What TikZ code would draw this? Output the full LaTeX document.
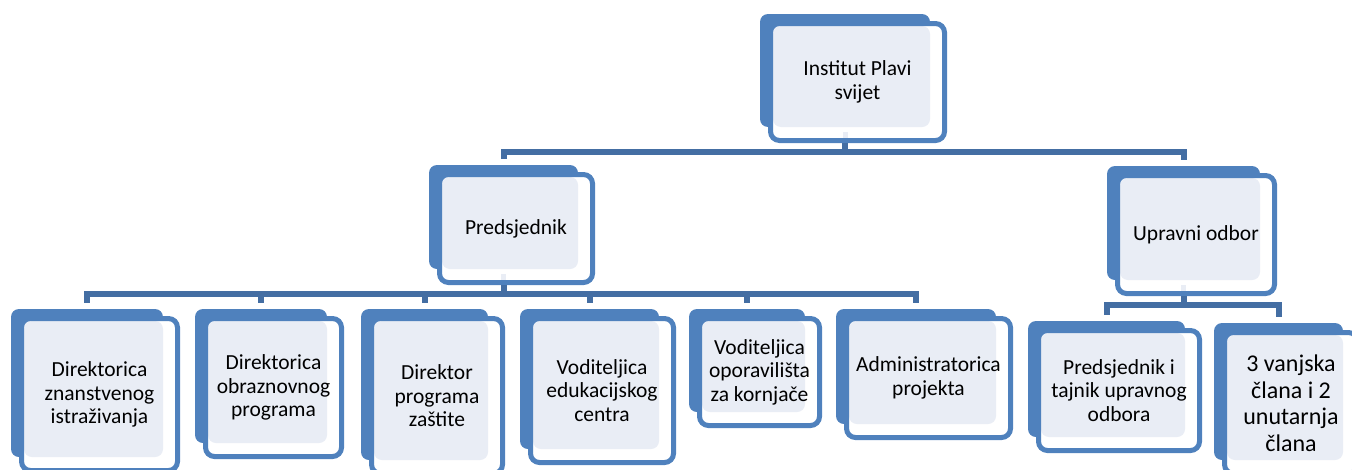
\documentclass[tikz,border=0pt]{standalone}
\usepackage{fontspec}
\setmainfont{Carlito}
\usetikzlibrary{backgrounds}

\definecolor{cardblue}{RGB}{79,129,189}
\definecolor{linkblue}{RGB}{68,110,163}
\definecolor{cardpale}{RGB}{233,237,245}

\begin{document}
\begin{tikzpicture}[
    x=1pt, y=-1pt,
    card/.style = {
        rectangle, draw=cardblue, fill=white, line width=5pt,
        rounded corners=9pt, inner sep=2pt, align=center,
        font=\fontsize{21.5}{23.5}\selectfont,
        path picture={
            \fill[cardpale, rounded corners=8pt]
                ([shift={(2.5,2.5)}]path picture bounding box.north west)
                rectangle ([shift={(-14.5,-13.5)}]path picture bounding box.south east);
        }
    },
    back/.style = {fill=cardblue, rounded corners=8pt},
    link/.style = {draw=linkblue, line width=6pt},
    stub/.style = {draw=cardpale, line width=5pt},
]
\useasboundingbox (0,0) rectangle (1352,469);

% Top
\node[card, minimum width=174pt, minimum height=117pt] (inst) at (857.5,82)
    {Institut Plavi\\svijet};

% Second row
\node[card, minimum width=153pt, minimum height=108pt] (pred) at (516,228.5)
    {Predsjednik};
\node[card, minimum width=157pt, minimum height=118pt] (upr) at (1196,234.5)
    {Upravni odbor};

% Under Predsjednik
\node[card, minimum width=156pt, minimum height=152pt] (dzi) at (99.5,394.5)
    {Direktorica\\znanstvenog\\istraživanja};
\node[card, minimum width=136pt, minimum height=138pt] (dop) at (273.5,387.5)
    {Direktorica\\obraznovnog\\programa};
\node[card, minimum width=131pt, minimum height=155pt] (dpz) at (437,396)
    {Direktor\\programa\\zaštite};
\node[card, minimum width=143pt, minimum height=144pt] (vec) at (602,390.5)
    {Voditeljica\\edukacijskog\\centra};
\node[card, minimum width=120pt, minimum height=107pt] (vok) at (759.5,372)
    {Voditeljica\\oporavilišta\\za kornjače};
\node[card, minimum width=164pt, minimum height=119pt] (adm) at (928.5,378)
    {Administratorica\\projekta};

% Under Upravni odbor
\node[card, minimum width=161pt, minimum height=120pt] (ptu) at (1119,390.5)
    {Predsjednik i\\tajnik upravnog\\odbora};
\node[card, minimum width=133pt, minimum height=141pt,
      font=\fontsize{24}{26.5}\selectfont] (vcl) at (1291,403)
    {3 vanjska\\člana i 2\\unutarnja\\člana};

% Blue backs
\begin{scope}[on background layer]
\foreach \n in {inst,pred,upr,dzi,dop,dpz,vec,vok,adm,ptu,vcl}
    \fill[back] ([shift={(-8,-7)}]\n.north west)
        rectangle ([shift={(-17,-16)}]\n.south east);
\end{scope}

% Connectors
\foreach \kid in {pred,upr}
    \draw[link] ([xshift=-12.5pt]inst.south) -- ++(0,9) -| ([shift={(-12.5,-13)}]\kid.north);
\foreach \kid in {dzi,dop,dpz,vec,vok,adm}
    \draw[link] ([xshift=-12.5pt]pred.south) -- ++(0,9) -| ([shift={(-12.5,-13)}]\kid.north);
\foreach \kid in {ptu,vcl}
    \draw[link] ([xshift=-12.5pt]upr.south) -- ++(0,9) -| ([shift={(-12.5,-13)}]\kid.north);
\foreach \n in {inst,pred,upr}
    \draw[stub] ([shift={(-12.5,-11)}]\n.south) -- ++(0,6);

\end{tikzpicture}
\end{document}
